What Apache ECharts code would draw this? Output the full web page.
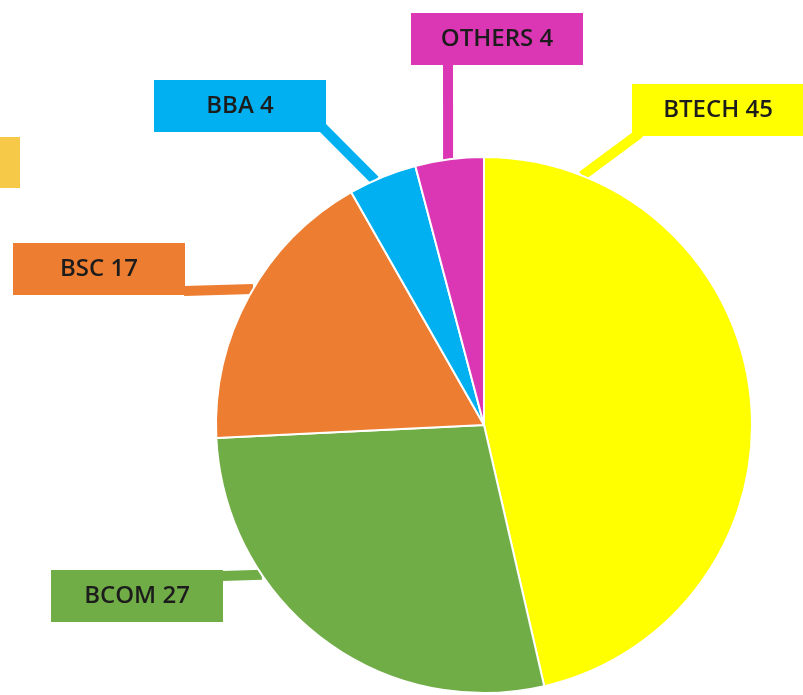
<!DOCTYPE html>
<html>
<head>
<meta charset="utf-8">
<script src="https://cdn.jsdelivr.net/npm/echarts@6/dist/echarts.min.js"></script>
<style>
  html, body { margin: 0; padding: 0; background: #ffffff; }
  #chart { width: 803px; height: 695px; }
</style>
</head>
<body>
<div id="chart"></div>
<script>
// Course enrolment split
const categories = ['BTECH', 'BCOM', 'BSC', 'BBA', 'OTHERS'];
const values = [45, 27, 17, 4, 4];
const sliceColors = ['#ffff00', '#70ad47', '#ed7d31', '#00b0f0', '#db36b4'];

// Pie geometry and label placement
const CENTER = [484, 425];
const RADIUS = 268;
// box centre, angle (deg clockwise from top) where the leader leaves the pie,
// and the point on the box where the leader ends
const labelPlacement = {
  BTECH:  { box: [718, 110], angle: 21.5,  attach: [640, 133] },
  BCOM:   { box: [137, 596], angle: 236,   attach: [222, 576] },
  BSC:    { box: [99, 269],  angle: 300.5, attach: [184, 291] },
  BBA:    { box: [240, 106], angle: 336,   attach: [322, 127] },
  OTHERS: { box: [497, 39],  angle: 352.3, attach: [448, 64] }
};

function edgePoint(deg) {
  const a = deg * Math.PI / 180;
  return [CENTER[0] + RADIUS * Math.sin(a), CENTER[1] - RADIUS * Math.cos(a)];
}

const chart = echarts.init(document.getElementById('chart'), null, { renderer: 'canvas' });

chart.setOption({
  backgroundColor: '#ffffff',
  animation: false,
  graphic: [{
    type: 'rect',
    shape: { x: -20, y: 137, width: 40, height: 51 },
    style: { fill: '#f7c948' },
    z: 0
  }],
  series: [{
    type: 'pie',
    center: CENTER,
    radius: RADIUS,
    startAngle: 90,
    clockwise: true,
    data: categories.map((name, i) => ({
      name: name,
      value: values[i],
      itemStyle: { color: sliceColors[i] }
    })),
    itemStyle: { borderColor: '#ffffff', borderWidth: 2 },
    label: {
      show: true,
      formatter: '{b} {c}',
      fontFamily: 'Open Sans',
      fontSize: 24,
      fontWeight: 600,
      color: '#1c1c1c',
      backgroundColor: 'inherit',
      width: 172,
      height: 52,
      lineHeight: 52,
      align: 'center',
      verticalAlign: 'middle',
      padding: 0
    },
    labelLine: {
      show: true,
      lineStyle: { width: 10 }
    },
    labelLayout: function (params) {
      const name = categories[params.dataIndex];
      const p = labelPlacement[name];
      const from = edgePoint(p.angle);
      return {
        x: p.box[0],
        y: p.box[1],
        align: 'center',
        verticalAlign: 'middle',
        labelLinePoints: [from, p.attach, p.attach]
      };
    }
  }]
});
</script>
</body>
</html>
